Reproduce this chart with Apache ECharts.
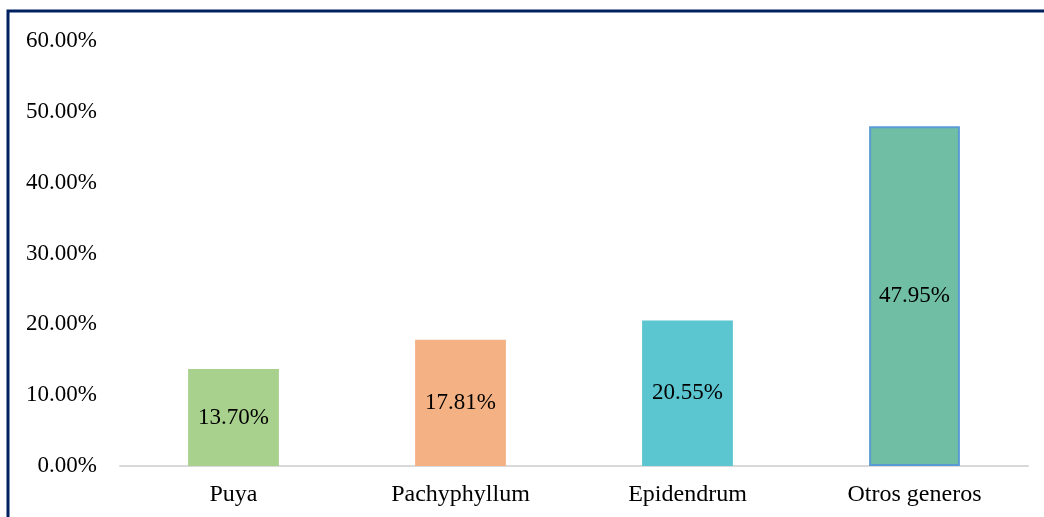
<!DOCTYPE html>
<html><head><meta charset="utf-8">
<script src="https://cdn.jsdelivr.net/npm/echarts@6/dist/echarts.min.js"></script>
<style>html,body{margin:0;padding:0;background:#fff}#c{width:1044px;height:517px}</style>
</head><body><div id="c"></div>
<script>
var categories = ["Puya", "Pachyphyllum", "Epidendrum", "Otros generos"];
var values = [13.70, 17.81, 20.55, 47.95];
var colors = ["#a9d18e", "#f4b183", "#5bc5d0", "#70bea3"];
var borders = [null, null, null, "#5b9bd5"];
var font = "'Liberation Serif', 'Times New Roman', serif";
var chart = echarts.init(document.getElementById('c'));
chart.setOption({
  animation: false,
  textStyle: {fontFamily: font},
  graphic: [{type: 'rect', shape: {x: 8, y: 11, width: 1100, height: 700},
    style: {fill: 'none', stroke: '#002060', lineWidth: 3}, z: 100}],
  grid: {left: 120, right: 16, top: 41, bottom: 51},
  xAxis: {type: 'category', data: categories,
    axisLine: {lineStyle: {color: '#d9d9d9', width: 2}}, axisTick: {show: false},
    axisLabel: {color: '#000', fontSize: 24, fontFamily: font, margin: 17}},
  yAxis: {type: 'value', min: 0, max: 60, interval: 10,
    splitLine: {show: false}, axisLine: {show: false}, axisTick: {show: false},
    axisLabel: {color: '#000', fontSize: 23, fontFamily: font, margin: 23,
      formatter: function(v){return v.toFixed(2) + '%';}}},
  series: [{type: 'bar', barWidth: '40%',
    data: values.map(function(v, i){
      return {value: v, itemStyle: {color: colors[i], borderColor: borders[i] || colors[i], borderWidth: borders[i] ? 2 : 0}};
    }),
    label: {show: true, position: 'inside', color: '#000', fontSize: 23, fontFamily: font,
      formatter: function(p){return p.value.toFixed(2) + '%';}}
  }]
});
</script></body></html>
